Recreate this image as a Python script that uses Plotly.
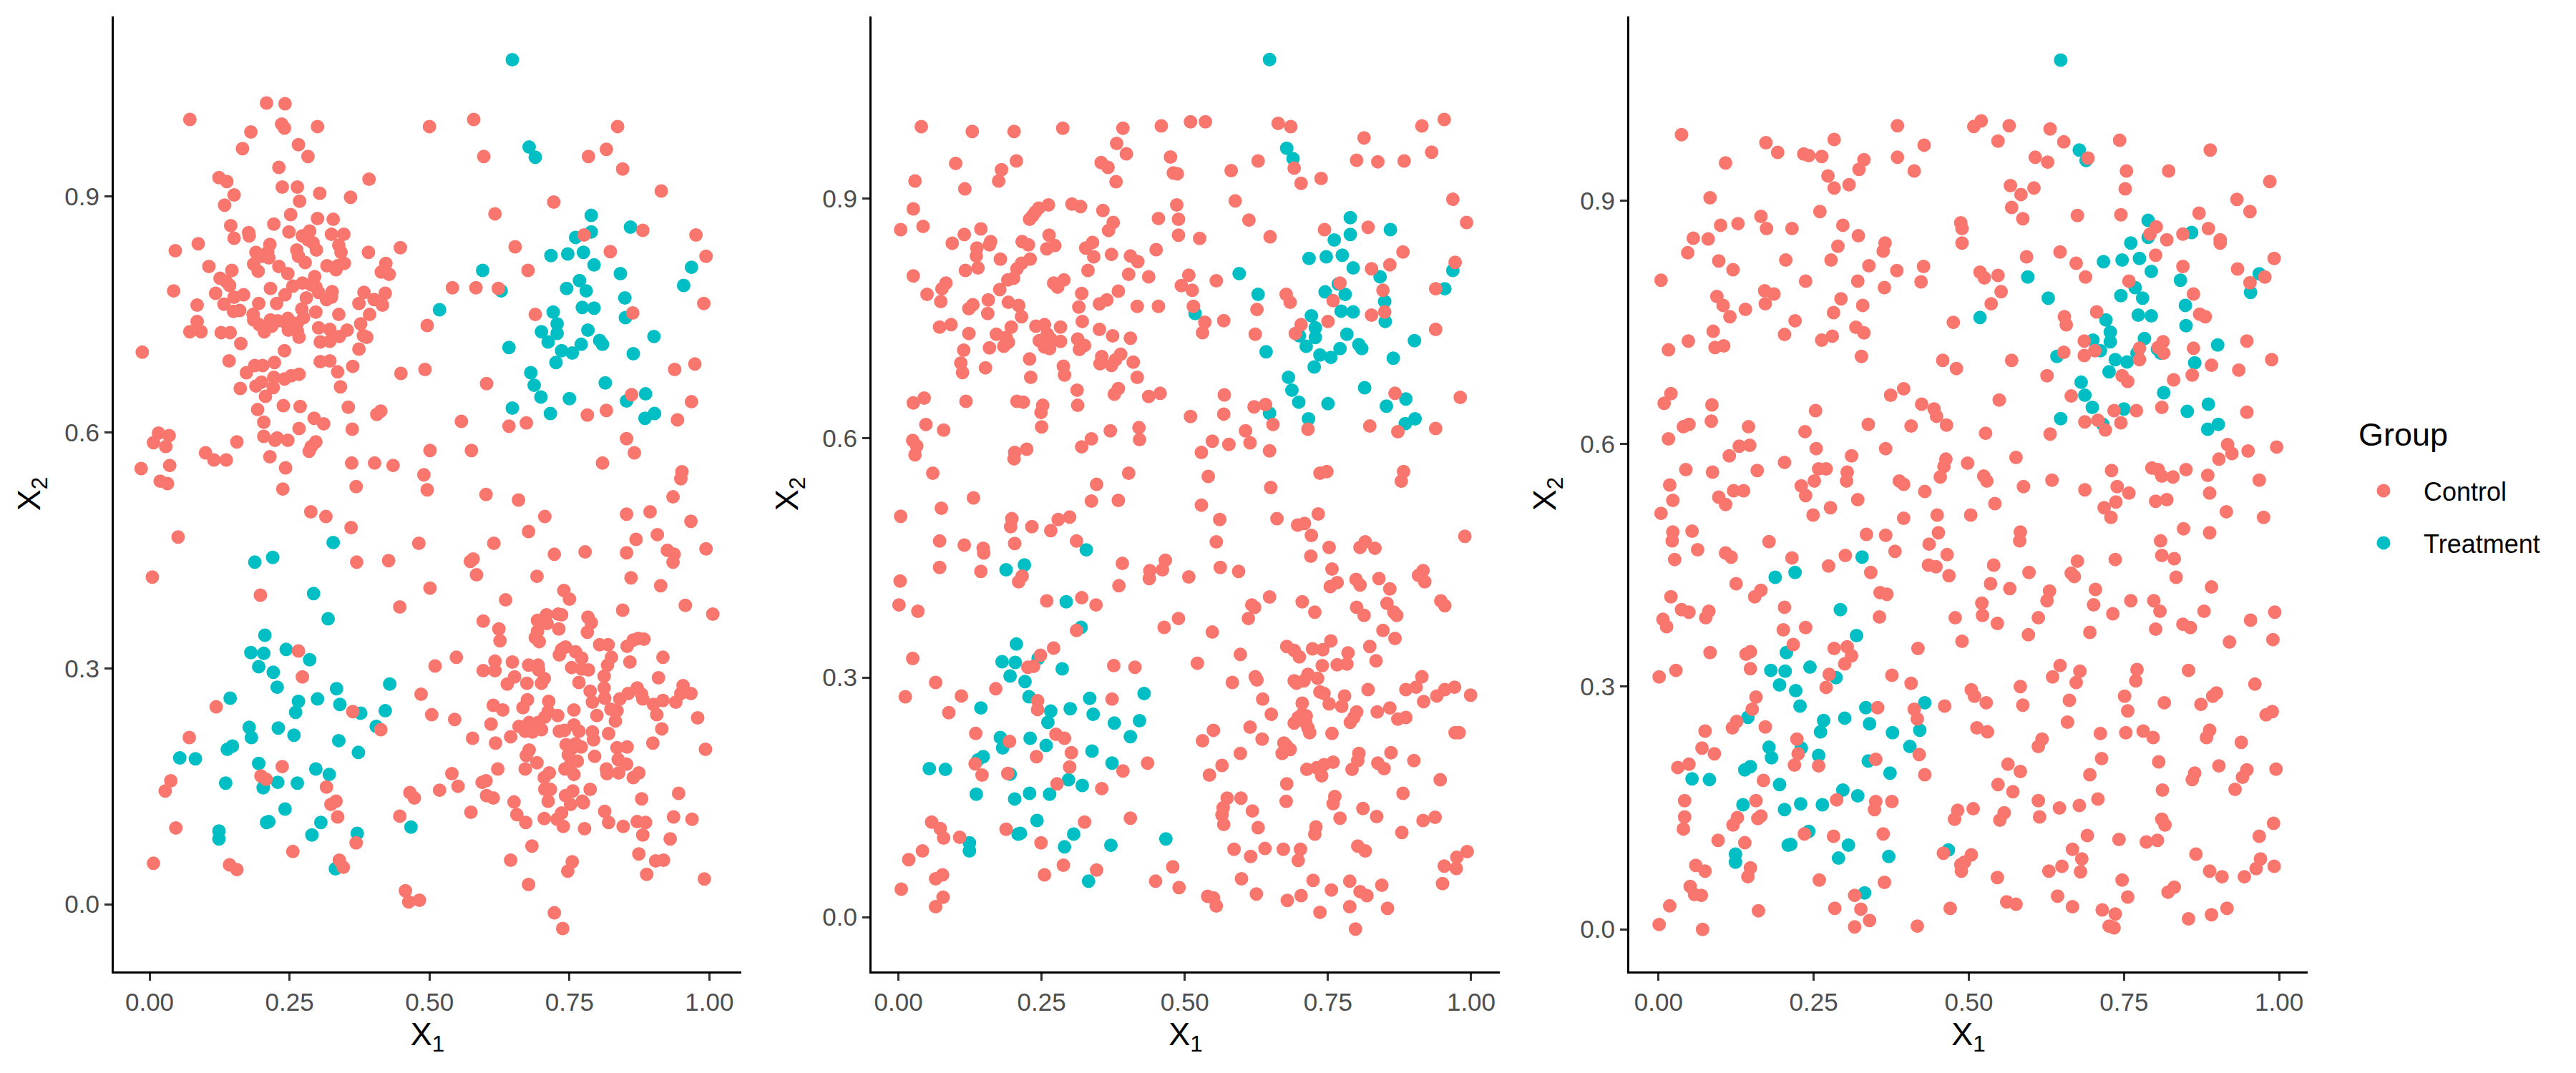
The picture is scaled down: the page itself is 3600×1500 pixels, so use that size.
import plotly.graph_objects as go

TREATMENT = [(.648,1.074),(.678,.963),(.689,.950),(.789,.876),(.789,.855),(.761,.848),(.859,.861),(.717,.825),(.747,.827),(.775,.829),(.794,.813),(.841,.802),(.968,.810),(.954,.787),(.595,.806),(.628,.780),(.768,.793),(.745,.783),(.780,.780),(.849,.771),(.518,.756),(.773,.759),(.794,.758),(.850,.746),(.721,.753),(.728,.738),(.700,.728),(.728,.726),(.783,.730),(.712,.715),(.804,.717),(.809,.712),(.901,.722),(.771,.712),(.736,.704),(.755,.701),(.642,.708),(.864,.700),(.726,.689),(.681,.676),(.687,.660),(.814,.663),(.699,.645),(.750,.643),(.886,.649),(.852,.640),(.648,.631),(.716,.624),(.902,.624),(.885,.618),
(.328,.460),(.220,.441),(.188,.435),(.293,.395),(.319,.363),(.206,.342),(.181,.320),(.204,.319),(.244,.324),(.286,.311),(.195,.302),(.221,.295),(.228,.276),(.334,.274),(.429,.280),(.144,.262),(.266,.258),(.300,.261),(.340,.254),(.377,.243),(.261,.244),(.421,.246),(.405,.226),(.178,.225),(.182,.212),(.230,.224),(.258,.215),(.338,.208),(.148,.201),(.139,.197),(.373,.193),(.054,.186),(.082,.185),(.195,.179),(.297,.172),(.321,.165),(.136,.154),(.229,.155),(.264,.154),(.203,.148),(.242,.121),(.213,.105),(.209,.104),(.306,.104),(.124,.093),(.124,.083),(.467,.098),(.371,.090),(.290,.088),(.332,.045)]

CONTROL_1 = [(.072,.998),(.209,1.019),(.242,1.018),(.236,.992),(.241,.987),(.181,.982),(.300,.989),(.266,.966),(.166,.961),(.283,.951),(.231,.937),(.124,.924),(.138,.919),(.237,.912),(.264,.912),(.304,.904),(.392,.922),(.359,.899),(.268,.894),(.151,.902),(.134,.889),(.252,.877),(.300,.872),(.328,.871),(.222,.865),(.145,.863),(.249,.855),(.177,.854),(.178,.850),(.151,.847),(.286,.856),(.273,.850),(.325,.852),(.347,.852),(.283,.845),(.292,.841),(.215,.839),(.087,.840),(.046,.831),(.448,.835),(.338,.838),(.263,.832),(.298,.832),(.342,.829),(.190,.829),(.211,.829),(.391,.829),(.202,.824),(.213,.822),(.266,.824),(.278,.816),(.186,.814),(.422,.815),(.348,.815),(.336,.812),(.317,.812),(.333,.807),(.106,.811),(.231,.811),(.147,.806),(.194,.805),(.247,.802),(.414,.804),(.428,.801),(.126,.796),(.295,.798),(.137,.792),(.143,.787),(.273,.790),(.216,.783),(.256,.786),(.288,.788),(.297,.785),(.043,.780),(.118,.777),(.168,.775),(.151,.772),(.242,.775),(.302,.778),(.326,.779),(.325,.772),(.316,.769),(.383,.778),(.421,.777),(.280,.771),(.401,.769),(.374,.764),(.133,.763),(.195,.764),(.227,.764),(.416,.762),(.085,.762),(.161,.755),(.150,.754),(.272,.757),(.297,.753),(.338,.750),(.393,.750),(.185,.750),(.186,.743),(.275,.746),(.216,.743),(.229,.742),(.247,.745),(.264,.739),(.196,.737),(.085,.741),(.377,.738),(.218,.735),(.244,.739),(.259,.735),(.072,.728),(.092,.728),(.128,.727),(.144,.727),(.205,.728),(.248,.730),(.264,.729),(.302,.733),(.322,.731),(.353,.730),(.267,.721),(.382,.723),(.388,.721),(.339,.722),(.322,.716),(.305,.715),(.163,.713),(-.013,.702),(.241,.704),(.374,.706),(.142,.691),(.188,.685),(.202,.685),(.223,.689),(.305,.690),(.322,.691),(.363,.684),(.173,.676),(.336,.677),(.449,.675),(.492,.680),(.267,.674),(.253,.672),(.241,.668),(.222,.670),(.200,.664),(.190,.659),(.221,.657),(.162,.656),(.341,.658),(.207,.646),(.239,.634),(.269,.633),(.193,.629),(.355,.632),(.413,.627),(.406,.623),(.294,.618),(.204,.613),(.311,.611),(.267,.605),(.362,.604),(.016,.599),(.035,.596),(.204,.595),(.228,.593),(.224,.590),(.247,.590),(.007,.587),(.029,.582),(.156,.588),(.297,.588),(.289,.582),(.285,.576),(.100,.574),(.115,.565),(.137,.565),(.215,.569),(.361,.561),(.402,.561),(.435,.558),(.036,.558),(-.015,.554),(.243,.555),(.019,.538),(.032,.535),(.238,.528),(.369,.531),
(.500,.989),(.579,.998),(.836,.989),(.597,.951),(.816,.960),(.784,.951),(.845,.935),(.914,.907),(.722,.893),(.617,.878),(.881,.857),(.976,.851),(.776,.851),(.653,.836),(.823,.830),(.994,.824),(.676,.806),(.541,.784),(.583,.784),(.623,.783),(.863,.752),(.689,.750),(.990,.764),(.496,.736),(.938,.680),(.974,.687),(.602,.662),(.861,.648),(.968,.639),(.816,.628),(.782,.622),(.943,.616),(.557,.614),(.673,.612),(.642,.608),(.852,.592),(.501,.577),(.575,.577),(.866,.574),(.809,.561),(.951,.550),(.949,.541),(.490,.546),(.496,.527),(.601,.521),(.935,.518),(.659,.514),
(.288,.499),(.315,.493),(.360,.479),(.706,.493),(.852,.496),(.894,.499),(.967,.487),(.677,.474),(.051,.467),(.907,.470),(.869,.464),(.481,.459),(.615,.459),(.994,.452),(.778,.448),(.852,.447),(.723,.445),(.925,.450),(.937,.445),(.935,.435),(.427,.437),(.370,.435),(.578,.439),(.573,.436),(.584,.419),(.692,.417),(.005,.416),(.860,.415),(.913,.405),(.501,.402),(.198,.393),(.740,.399),(.750,.388),(.636,.387),(.447,.378),(.957,.380),(1.006,.369),(.845,.374),(.730,.369),(.736,.368),(.709,.368),(.783,.365),(.693,.361),(.710,.357),(.789,.358),(.596,.360),(.731,.350),(.624,.350),(.782,.346),(.693,.347),(.689,.339),(.626,.335),(.696,.334),(.883,.337),(.873,.338),(.864,.336),(.853,.328),(.804,.330),(.819,.330),(.743,.327),(.736,.324),(.732,.317),(.761,.321),(.266,.322),(.772,.313),(.825,.314),(.917,.314),(.548,.314),(.617,.309),(.858,.308),(.648,.308),(.510,.303),(.677,.304),(.694,.304),(.818,.304),(.754,.301),(.772,.299),(.784,.298),(.695,.298),(.596,.297),(.617,.297),(.273,.289),(.812,.290),(.909,.288),(.652,.289),(.705,.287),(.639,.280),(.674,.281),(.700,.281),(.767,.282),(.953,.278),(.812,.275),(.871,.275),(.787,.271),(.485,.267),(.949,.268),(.967,.268),(.855,.268),(.879,.267),(.840,.261),(.881,.261),(.813,.262),(.917,.259),(.791,.257),(.713,.258),(.675,.260),(.940,.257),(.900,.254),(.119,.251),(.614,.253),(.667,.250),(.758,.247),(.631,.247),(.363,.245),(.824,.248),(.835,.246),(.712,.245),(.906,.241),(.729,.240),(.504,.241),(.799,.240),(.706,.238),(.979,.237),(.545,.235),(.832,.233),(.610,.229),(.758,.228),(.660,.226),(.678,.231),(.694,.231),(.671,.220),(.684,.219),(.700,.222),(.413,.222),(.767,.220),(.732,.220),(.741,.221),(.915,.223),(.791,.219),(.820,.217),(.793,.209),(.071,.212),(.577,.211),(.645,.213),(.618,.205),(.899,.205),(.744,.203),(.761,.204),(.771,.200),(.754,.198),(.835,.199),(.853,.200),(.993,.197),(.678,.196),(.673,.189),(.748,.190),(.795,.188),(.837,.184),(.764,.182),(.753,.180),(.692,.180),(.852,.178),(.237,.175),(.742,.172),(.671,.172),(.622,.172),(.816,.172),(.817,.166),(.838,.167),(.874,.167),(.758,.165),(.714,.167),(.540,.166),(.864,.161),(.705,.161),(.199,.163),(.208,.159),(.038,.157),(.601,.157),(.594,.155),(.551,.150),(.316,.149),(.028,.144),(.706,.146),(.716,.146),(.787,.146),(.518,.145),(.756,.144),(.465,.142),(.945,.141),(.743,.138),(.602,.138),(.614,.135),(.473,.135),(.879,.134),(.333,.131),(.773,.131),(.712,.131),(.775,.129),(.651,.130),(.324,.127),(.752,.127),(.574,.117),(.813,.118),(.736,.116),(.656,.114),(.336,.111),(.936,.111),(.447,.112),(.705,.109),(.969,.108),(.728,.108),(.820,.104),(.672,.104),(.871,.105),(.886,.104),(.739,.099),(.846,.099),(.047,.097),(.777,.096),(.881,.088),(.930,.083),(.369,.078),(.683,.074),(.256,.067),(.874,.064),(.755,.054),(.645,.056),(.904,.055),(.918,.056),(.339,.056),(.007,.052),(.143,.050),(.156,.044),(.346,.047),(.747,.042),(.888,.038),(.991,.032),(.677,.025),(.457,.017),(.482,.005),(.463,.003),(.723,-.011),(.738,-.031)]

CONTROL_2 = [(.040,.990),(.129,.984),(.202,.984),(.287,.988),(.392,.988),(.459,.991),(.510,.996),(.536,.996),(.663,.994),(.685,.990),(.953,.999),(.914,.991),(.813,.976),(.381,.969),(.398,.956),(.475,.952),(.100,.944),(.206,.947),(.180,.936),(.354,.945),(.366,.939),(.628,.947),(.691,.938),(.800,.948),(.837,.946),(.883,.947),(.931,.958),(.581,.935),(.480,.932),(.487,.931),(.738,.925),(.703,.919),(.029,.922),(.175,.922),(.380,.921),(.116,.912),(.026,.887),(.262,.892),(.303,.893),(.318,.890),(.357,.885),(.245,.888),(.239,.883),(.486,.892),(.588,.897),(.968,.899),(.234,.878),(.229,.874),(.375,.870),(.489,.874),(.454,.875),(.612,.873),(.992,.870),(.004,.861),(.043,.865),(.144,.862),(.744,.861),(.820,.864),(.367,.860),(.115,.855),(.263,.854),(.489,.854),(.526,.850),(.649,.852),(.094,.844),(.161,.846),(.159,.842),(.216,.846),(.227,.842),(.273,.841),(.259,.837),(.339,.845),(.327,.838),(.137,.838),(.450,.836),(.136,.828),(.341,.827),(.372,.830),(.405,.828),(.418,.821),(.178,.824),(.230,.824),(.215,.819),(.881,.833),(.972,.820),(.858,.817),(.826,.812),(.207,.812),(.117,.810),(.139,.813),(.331,.810),(.026,.803),(.437,.802),(.402,.805),(.507,.804),(.201,.800),(.191,.798),(.289,.798),(.271,.794),(.278,.789),(.083,.794),(.076,.787),(.494,.791),(.555,.797),(.513,.785),(.771,.794),(.846,.785),(.938,.787),(.177,.786),(.050,.780),(.320,.781),(.384,.784),(.677,.780),(.684,.770),(.759,.772),(.074,.771),(.157,.773),(.364,.773),(.351,.768),(.192,.770),(.210,.766),(.130,.767),(.123,.762),(.315,.764),(.417,.765),(.454,.765),(.515,.765),(.626,.761),(.849,.758),(.156,.756),(.826,.754),(.215,.752),(.321,.746),(.535,.745),(.568,.747),(.750,.746),(.092,.742),(.072,.739),(.703,.742),(.255,.742),(.240,.740),(.283,.739),(.197,.739),(.351,.736),(.938,.736),(.531,.732),(.693,.731),(.123,.731),(.171,.730),(.623,.730),(.260,.730),(.374,.728),(.188,.726),(.405,.725),(.313,.724),(.246,.722),(.266,.724),(.283,.721),(.192,.720),(.325,.716),(.184,.715),(.255,.714),(.264,.712),(.316,.711),(.114,.710),(.159,.713),(.388,.705),(.355,.702),(.229,.699),(.379,.698),(.410,.695),(.109,.694),(.352,.693),(.372,.691),(.288,.690),(.152,.688),(.112,.682),(.290,.679),(.231,.676),(.417,.676),(.312,.660),(.384,.662),(.377,.655),(.457,.656),(.437,.652),(.569,.654),(.867,.656),(.045,.650),(.981,.651),(.026,.644),(.118,.646),(.207,.646),(.218,.645),(.252,.641),(.313,.641),(.641,.642),(.621,.639),(.249,.632),(.568,.630),(.510,.627),(.654,.617),(.048,.617),(.823,.615),(.938,.612),(.715,.611),(.079,.610),(.250,.614),(.420,.613),(.370,.609),(.606,.609),(.872,.608),(.337,.599),(.025,.597),(.548,.596),(.421,.598),(.032,.590),(.614,.594),(.577,.592),(.224,.586),(.648,.584),(.203,.582),(.320,.589),(.529,.582),(.029,.579),(.202,.574),(.060,.556),(.402,.556),(.541,.552),(.748,.558),(.736,.556),(.882,.558),(.878,.546),(.346,.542),(.650,.538),(.131,.525),(.384,.522),(.337,.521),(.529,.516),(.075,.512),
(.004,.502),(.198,.499),(.196,.489),(.279,.498),(.299,.501),(.233,.489),(.266,.484),(.561,.498),(.661,.499),(.697,.491),(.709,.493),(.733,.505),(.721,.478),(.989,.477),(.072,.471),(.115,.466),(.148,.462),(.149,.456),(.203,.468),(.311,.471),(.555,.470),(.752,.463),(.815,.470),(.806,.463),(.832,.462),(.720,.452),(.466,.447),(.391,.443),(.072,.438),(.144,.433),(.439,.434),(.461,.435),(.562,.438),(.594,.433),(.757,.436),(.438,.424),(.507,.426),(.216,.427),(.210,.420),(.003,.421),(.916,.434),(.908,.428),(.919,.420),(.799,.423),(.806,.416),(.839,.424),(.858,.411),(.766,.419),(.754,.414),(.385,.415),(.320,.400),(.648,.401),(.259,.396),(.001,.391),(.345,.391),(.617,.391),(.622,.388),(.705,.395),(.947,.396),(.954,.390),(.853,.393),(.034,.383),(.727,.382),(.800,.388),(.813,.378),(.865,.382),(.870,.378),(.611,.374),(.489,.374),(.464,.363),(.311,.359),(.548,.357),(.846,.359),(.867,.349),(.755,.346),(.025,.324),(.271,.337),(.678,.339),(.691,.334),(.700,.326),(.723,.336),(.741,.335),(.823,.339),(.785,.331),(.248,.328),(.597,.329),(.834,.321),(.522,.318),(.740,.315),(.766,.316),(.783,.317),(.226,.313),(.236,.314),(.376,.315),(.413,.313),(.715,.304),(.623,.301),(.626,.297),(.732,.299),(.691,.296),(.708,.296),(.695,.293),(.914,.301),(.065,.294),(.583,.294),(.904,.288),(.886,.285),(.820,.285),(.971,.288),(.954,.285),(.170,.286),(.940,.277),(.999,.278),(.012,.276),(.110,.277),(.736,.282),(.743,.280),(.779,.277),(.636,.273),(.373,.273),(.243,.271),(.917,.270),(.705,.268),(.752,.267),(.774,.264),(.243,.260),(.858,.262),(.088,.256),(.800,.257),(.836,.257),(.651,.254),(.705,.254),(.712,.252),(.698,.250),(.886,.250),(.872,.248),(.691,.243),(.795,.250),(.789,.244),(.711,.244),(.614,.238),(.715,.237),(.718,.231),(.550,.234),(.135,.230),(.275,.229),(.757,.230),(.972,.231),(.979,.231),(.290,.224),(.635,.223),(.531,.221),(.194,.220),(.673,.218),(.677,.215),(.684,.210),(.670,.205),(.302,.206),(.804,.205),(.597,.205),(.860,.206),(.241,.201),(.802,.196),(.900,.196),(.435,.193),(.759,.194),(.837,.193),(.134,.192),(.565,.190),(.848,.186),(.743,.191),(.730,.187),(.713,.185),(.792,.185),(.299,.188),(.392,.183),(.739,.177),(.191,.180),(.543,.178),(.146,.178),(.946,.172),(.678,.167),(.277,.167),(.355,.161),(.881,.155),(.574,.149),(.598,.149),(.677,.145),(.762,.151),(.759,.142),(.567,.137),(.618,.133),(.811,.136),(.835,.126),(.565,.128),(.771,.124),(.405,.124),(.916,.121),(.937,.125),(.058,.119),(.325,.119),(.568,.116),(.073,.111),(.628,.112),(.729,.113),(.188,.110),(.727,.104),(.079,.099),(.879,.106),(.107,.100),(.249,.093),(.042,.083),(.586,.085),(.640,.086),(.672,.085),(.702,.085),(.802,.089),(.815,.083),(.993,.082),(.018,.072),(.615,.076),(.698,.071),(.975,.075),(.288,.065),(.077,.053),(.065,.048),(.255,.053),(.346,.059),(.479,.063),(.953,.064),(.974,.061),(.599,.048),(.724,.046),(.449,.045),(.788,.045),(.005,.035),(.490,.037),(.756,.034),(.844,.040),(.950,.042),(.806,.032),(.818,.027),(.625,.029),(.078,.025),(.540,.026),(.550,.024),(.703,.027),(.679,.021),(.065,.013),(.555,.014),(.788,.013),(.854,.011),(.736,.006),(.798,-.015)]

CONTROL_3 = [(.037,.982),(.173,.972),(.192,.960),(.108,.947),(.234,.958),(.242,.956),(.263,.955),(.283,.976),(.385,.993),(.331,.951),(.323,.939),(.385,.954),(.428,.969),(.412,.937),(.273,.931),(.283,.916),(.307,.920),(.508,.992),(.520,.999),(.565,.993),(.547,.974),(.631,.989),(.653,.973),(.743,.975),(.889,.963),(.607,.954),(.627,.948),(.692,.953),(.754,.937),(.822,.937),(.567,.919),(.605,.916),(.584,.908),(.752,.915),(.985,.924),(.932,.902),(.083,.904),(.569,.892),(.260,.887),(.953,.887),(.165,.881),(.675,.882),(.745,.883),(.871,.885),(.587,.878),(.128,.872),(.100,.870),(.174,.866),(.215,.866),(.297,.870),(.487,.873),(.489,.866),(.802,.868),(.886,.866),(.792,.859),(.322,.857),(.845,.859),(.819,.852),(.056,.854),(.080,.853),(.905,.852),(.905,.848),(.365,.848),(.489,.848),(.289,.844),(.362,.838),(.047,.836),(.647,.837),(.593,.831),(.801,.833),(.992,.829),(.097,.826),(.205,.827),(.278,.827),(.673,.823),(.339,.820),(.427,.819),(.845,.819),(.120,.815),(.384,.814),(.933,.816),(.518,.812),(.547,.808),(.525,.805),(.688,.806),(.977,.806),(.004,.802),(.237,.801),(.321,.801),(.423,.800),(.758,.801),(.953,.799),(.364,.793),(.552,.788),(.171,.789),(.186,.785),(.094,.782),(.294,.779),(.862,.785),(.172,.773),(.104,.771),(.536,.773),(.329,.771),(.140,.766),(.282,.762),(.706,.763),(.872,.760),(.881,.757),(.115,.757),(.654,.757),(.220,.752),(.657,.747),(.475,.750),(.318,.744),(.331,.737),(.088,.739),(.203,.735),(.280,.733),(.263,.728),(.048,.727),(.813,.726),(.948,.727),(.686,.727),(.105,.721),(.091,.719),(.016,.716),(.805,.719),(.775,.718),(.862,.718),(.703,.715),(.653,.713),(.814,.712),(.686,.709),(.327,.708),(.458,.703),(.569,.703),(.775,.704),(.988,.704),(.480,.693),(.891,.697),(.935,.691),(.860,.685),(.626,.684),(.747,.684),(.756,.677),(.830,.679),(.395,.668),(.374,.660),(.020,.662),(.009,.650),(.086,.648),(.665,.659),(.549,.654),(.424,.649),(.444,.643),(.253,.641),(.811,.645),(.734,.641),(.770,.641),(.948,.639),(.448,.634),(.085,.628),(.049,.624),(.040,.621),(.145,.621),(.338,.624),(.407,.622),(.464,.623),(.708,.629),(.687,.627),(.745,.626),(.720,.617),(.236,.615),(.527,.613),(.631,.612),(.016,.606),(.917,.599),(.147,.598),(.130,.597),(.254,.594),(.366,.594),(.950,.591),(.996,.596),(.924,.588),(.114,.585),(.311,.585),(.576,.583),(.463,.581),(.903,.581),(.203,.577),(.498,.576),(.044,.568),(.087,.565),(.159,.567),(.258,.569),(.270,.569),(.460,.572),(.730,.567),(.795,.570),(.805,.568),(.811,.560),(.829,.559),(.850,.568),(.885,.561),(.304,.565),(.303,.554),(.251,.554),(.454,.559),(.524,.560),(.529,.554),(.388,.554),(.395,.550),(.018,.549),(.968,.555),(.588,.547),(.634,.555),(.230,.548),(.121,.542),(.137,.542),(.739,.547),(.687,.543),(.429,.541),(.758,.539),(.888,.539),(.237,.536),(.097,.534),(.023,.530),(.321,.531),(.108,.525),(.542,.526),(.737,.528),(.801,.529),(.819,.531),(.718,.521),(.277,.521),
(.004,.514),(.249,.512),(.395,.508),(.449,.512),(.503,.512),(.729,.509),(.915,.516),(.975,.509),(.023,.491),(.054,.492),(.022,.480),(.846,.495),(.888,.490),(.335,.488),(.366,.487),(.451,.490),(.583,.491),(.582,.480),(.436,.476),(.809,.480),(.178,.479),(.063,.469),(.381,.467),(.108,.465),(.117,.460),(.465,.463),(.811,.462),(.215,.459),(.301,.462),(.831,.458),(.026,.457),(.736,.457),(.675,.455),(.540,.450),(.435,.450),(.447,.448),(.274,.449),(.342,.441),(.597,.441),(.665,.440),(.670,.436),(.468,.437),(.834,.435),(.125,.427),(.535,.427),(.566,.421),(.891,.423),(.704,.420),(.630,.418),(.165,.419),(.357,.416),(.368,.414),(.155,.411),(.020,.411),(.798,.406),(.626,.406),(.521,.403),(.701,.401),(.761,.406),(.203,.398),(.808,.393),(.037,.395),(.049,.392),(.081,.393),(.076,.385),(.007,.383),(.993,.392),(.879,.393),(.732,.390),(.522,.388),(.356,.386),(.478,.385),(.612,.385),(.546,.378),(.954,.382),(.013,.374),(.845,.377),(.857,.373),(.237,.373),(.201,.370),(.801,.371),(.695,.367),(.596,.364),(.489,.356),(.990,.358),(.920,.355),(.217,.352),(.304,.349),(.283,.347),(.418,.347),(.311,.338),(.148,.343),(.141,.340),(.083,.342),(.300,.328),(.647,.326),(.771,.321),(.679,.319),(.028,.320),(.148,.322),(.854,.320),(.001,.312),(.376,.314),(.275,.315),(.635,.312),(.769,.307),(.673,.305),(.407,.304),(.961,.303),(.270,.299),(.583,.300),(.504,.296),(.509,.288),(.157,.287),(.899,.292),(.893,.288),(.751,.288),(.662,.283),(.528,.280),(.587,.277),(.815,.280),(.874,.278),(.461,.276),(.151,.272),(.353,.274),(.412,.272),(.756,.270),(.989,.269),(.979,.265),(.417,.260),(.659,.256),(.126,.257),(.119,.249),(.172,.250),(.513,.249),(.530,.244),(.888,.246),(.753,.243),(.781,.245),(.712,.242),(.797,.237),(.075,.245),(.883,.237),(.223,.235),(.618,.235),(.612,.226),(.939,.231),(.070,.224),(.225,.217),(.090,.217),(.420,.216),(.714,.211),(.350,.210),(.806,.207),(.219,.203),(.258,.202),(.049,.204),(.031,.200),(.563,.204),(.583,.195),(.903,.202),(.948,.197),(.995,.198),(.864,.193),(.429,.191),(.695,.191),(.941,.188),(.860,.185),(.169,.184),(.547,.179),(.812,.172),(.571,.170),(.929,.173),(.708,.161),(.157,.159),(.287,.160),(.042,.159),(.612,.159),(.376,.158),(.350,.158),(.348,.148),(.678,.153),(.646,.150),(.507,.149),(.482,.147),(.557,.144),(.477,.136),(.550,.135),(.614,.139),(.042,.139),(.165,.140),(.160,.137),(.127,.138),(.120,.129),(.040,.124),(.811,.136),(.816,.129),(.991,.131),(.235,.118),(.282,.115),(.362,.118),(.691,.116),(.968,.115),(.096,.110),(.139,.107),(.742,.111),(.786,.108),(.804,.110),(.667,.099),(.682,.087),(.459,.094),(.504,.092),(.493,.083),(.487,.080),(.488,.072),(.866,.093),(.970,.087),(.992,.078),(.963,.075),(.650,.078),(.629,.072),(.680,.071),(.888,.072),(.060,.079),(.075,.072),(.148,.076),(.144,.065),(.908,.065),(.944,.065),(.546,.064),(.259,.061),(.364,.058),(.747,.061),(.051,.053),(.058,.043),(.069,.042),(.831,.052),(.821,.046),(.316,.042),(.643,.041),(.756,.040),(.018,.029),(.667,.028),(.470,.026),(.561,.034),(.576,.031),(.161,.023),(.284,.026),(.326,.025),(.715,.024),(.916,.026),(.891,.018),(.736,.019),(.854,.013),(.340,.011),(.001,.006),(.316,.003),(.417,.004),(.071,.000),(.726,.004),(.734,.002)]

X_TICKS = [0.0, 0.25, 0.5, 0.75, 1.0]
Y_TICKS = [0.0, 0.3, 0.6, 0.9]
SALMON, TEAL = "#F8766D", "#00BFC4"
BODY = 8  # default page margin around the figure
W, H = 3600 - 2 * BODY, 1500 - 2 * BODY
FONT = "Liberation Sans"


def fx(px):
    return (px - BODY) / W


def fy(py):
    return 1 - (py - BODY) / H


panels = [
    dict(ctrl=CONTROL_1, px=(159, 1036), py=(23, 1358), xr=(-0.0639, 1.057), yr=(-0.0855, 1.129)),
    dict(ctrl=CONTROL_2, px=(1218, 2096), py=(23, 1358), xr=(-0.0469, 1.05), yr=(-0.068, 1.128)),
    dict(ctrl=CONTROL_3, px=(2277, 3225), py=(23, 1358), xr=(-0.0471, 1.046), yr=(-0.052, 1.128)),
]

fig = go.Figure()
layout = dict(
    width=W, height=H, margin=dict(l=0, r=0, t=0, b=0),
    paper_bgcolor="white", plot_bgcolor="white",
    font=dict(family=FONT, color="black"),
)


def marker(color):
    # 16 + 3 px outline in the same colour gives the 19 px dot, in the legend too
    return dict(color=color, size=16, line=dict(color=color, width=3))


for i, p in enumerate(panels):
    s = "" if i == 0 else str(i + 1)
    tx, ty = zip(*TREATMENT)
    cx, cy = zip(*p["ctrl"])
    fig.add_trace(go.Scatter(x=tx, y=ty, mode="markers", name="Treatment", xaxis="x" + s, yaxis="y" + s,
                             marker=marker(TEAL), showlegend=(i == 0), legend="legend2"))
    fig.add_trace(go.Scatter(x=cx, y=cy, mode="markers", name="Control", xaxis="x" + s, yaxis="y" + s,
                             marker=marker(SALMON), showlegend=(i == 0), legend="legend"))
    common = dict(showgrid=False, zeroline=False, showline=True, linecolor="black", linewidth=3,
                  ticks="outside", ticklen=10, tickwidth=3, tickcolor="#333333",
                  tickfont=dict(family=FONT, size=35, color="#4D4D4D"))
    layout["xaxis" + s] = dict(domain=[fx(p["px"][0]), fx(p["px"][1])], range=list(p["xr"]), anchor="y" + s,
                               tickvals=X_TICKS, tickformat=".2f",
                               title=dict(text="X<sub>1</sub>", font=dict(family=FONT, size=45), standoff=4), **common)
    layout["yaxis" + s] = dict(domain=[fy(p["py"][1]), fy(p["py"][0])], range=list(p["yr"]), anchor="x" + s,
                               tickvals=Y_TICKS, tickformat=".1f",
                               title=dict(text="X<sub>2</sub>", font=dict(family=FONT, size=45), standoff=20), **common)

layout["legend"] = dict(x=fx(3275), xanchor="left", y=fy(656), yanchor="top", bgcolor="rgba(0,0,0,0)",
                        font=dict(family=FONT, size=36), itemwidth=102, itemclick=False)
layout["legend2"] = dict(x=fx(3275), xanchor="left", y=fy(729), yanchor="top", bgcolor="rgba(0,0,0,0)",
                         font=dict(family=FONT, size=36), itemwidth=102, itemclick=False)
layout["annotations"] = [dict(text="Group", x=fx(3294), y=fy(607), xref="paper", yref="paper",
                              xanchor="left", yanchor="middle", showarrow=False,
                              font=dict(family=FONT, size=45, color="black"))]
fig.update_layout(**layout)
fig.write_html("out.html")
